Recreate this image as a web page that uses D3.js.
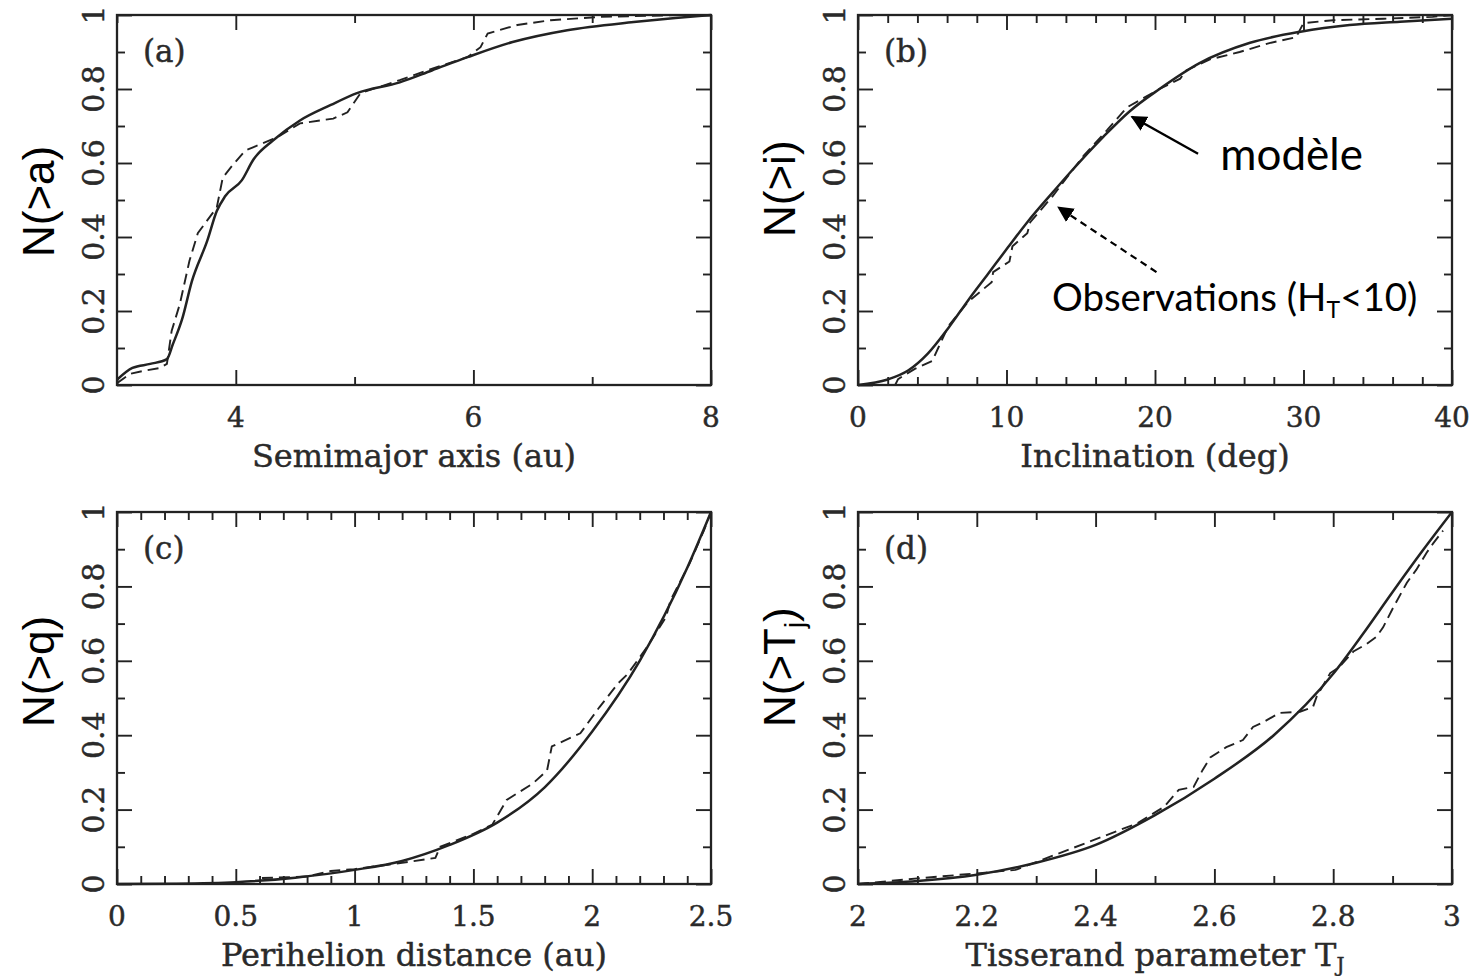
<!DOCTYPE html>
<html>
<head>
<meta charset="utf-8">
<script src="https://cdn.jsdelivr.net/npm/d3@7"></script>
<style>
  html, body { margin: 0; padding: 0; background: #ffffff; }
  svg { display: block; }
</style>
</head>
<body>
<svg id="fig" width="1471" height="976"></svg>
<script>
// ---------- cumulative distributions: model (solid) and observed (dashed) ----------

// (a) semimajor axis (au)
const aModelX = [3.0, 3.13, 3.28, 3.42, 3.47, 3.55, 3.63, 3.76, 3.84, 3.91, 4.05, 4.15, 4.31, 4.54, 4.8, 5.02, 5.38, 5.65, 5.95, 6.33, 6.79, 7.35, 7.7, 8.0];
const aModelY = [0.014, 0.046, 0.057, 0.07, 0.11, 0.18, 0.28, 0.39, 0.47, 0.51, 0.553, 0.61, 0.66, 0.715, 0.757, 0.789, 0.818, 0.85, 0.886, 0.927, 0.959, 0.981, 0.992, 1.0];
const aObsX = [3.0, 3.11, 3.22, 3.36, 3.42, 3.46, 3.53, 3.61, 3.68, 3.84, 3.89, 3.95, 4.08, 4.15, 4.35, 4.54, 4.82, 4.94, 5.05, 5.38, 5.66, 5.95, 6.06, 6.12, 6.37, 6.65, 7.07, 7.77, 8.0];
const aObsY = [0.005, 0.03, 0.038, 0.046, 0.057, 0.146, 0.22, 0.336, 0.41, 0.48, 0.56, 0.585, 0.634, 0.643, 0.67, 0.707, 0.72, 0.737, 0.789, 0.824, 0.856, 0.886, 0.913, 0.95, 0.973, 0.986, 0.995, 1.0, 1.0];

// (b) inclination (deg)
const bModelX = [0, 2.0, 3.4, 4.7, 6.1, 7.4, 8.75, 10.1, 11.4, 13.1, 14.3, 16.5, 18.3, 20.3, 23.0, 26.4, 29.8, 33.1, 36.5, 40];
const bModelY = [0, 0.015, 0.04, 0.085, 0.155, 0.228, 0.3, 0.372, 0.44, 0.52, 0.575, 0.67, 0.74, 0.8, 0.87, 0.925, 0.955, 0.973, 0.982, 0.99];
const bObsX = [2.5, 2.7, 3.8, 5.0, 5.4, 6.1, 7.4, 9.0, 9.1, 10.2, 10.4, 11.4, 11.6, 13.1, 15.2, 16.8, 18.1, 20.3, 21.7, 22.1, 23.7, 25.7, 27.7, 29.5, 30.0, 32.0, 35.4, 38.7, 40];
const bObsY = [0, 0.016, 0.043, 0.065, 0.1, 0.16, 0.224, 0.278, 0.305, 0.334, 0.375, 0.41, 0.44, 0.51, 0.62, 0.69, 0.75, 0.8, 0.828, 0.85, 0.88, 0.9, 0.924, 0.94, 0.978, 0.986, 0.99, 0.995, 1.0];

// (c) perihelion distance (au)
const cModelX = [0, 0.25, 0.5, 0.75, 1.0, 1.2, 1.4, 1.6, 1.8, 2.0, 2.2, 2.4, 2.5];
const cModelY = [0, 0.001, 0.005, 0.017, 0.038, 0.062, 0.105, 0.165, 0.26, 0.41, 0.6, 0.85, 1.0];
const cObsX = [0.61, 0.8, 0.9, 1.0, 1.2, 1.34, 1.36, 1.5, 1.58, 1.64, 1.75, 1.81, 1.83, 1.95, 2.03, 2.11, 2.15, 2.23, 2.31, 2.33, 2.41, 2.47, 2.5];
const cObsY = [0.016, 0.02, 0.035, 0.04, 0.057, 0.07, 0.1, 0.135, 0.16, 0.226, 0.27, 0.305, 0.37, 0.405, 0.475, 0.54, 0.565, 0.636, 0.717, 0.763, 0.862, 0.95, 1.0];

// (d) Tisserand parameter
const dModelX = [2.0, 2.1, 2.2, 2.3, 2.4, 2.5, 2.6, 2.7, 2.8, 2.85, 2.9, 2.95, 3.0];
const dModelY = [0, 0.008, 0.025, 0.057, 0.105, 0.185, 0.283, 0.4, 0.565, 0.672, 0.785, 0.895, 1.0];
const dObsX = [2.0, 2.1, 2.21, 2.265, 2.31, 2.47, 2.515, 2.54, 2.565, 2.58, 2.593, 2.62, 2.648, 2.665, 2.682, 2.71, 2.744, 2.766, 2.772, 2.795, 2.81, 2.834, 2.856, 2.873, 2.884, 2.9, 2.924, 2.94, 2.957, 2.968, 2.985];
const dObsY = [0, 0.015, 0.03, 0.038, 0.065, 0.163, 0.207, 0.253, 0.261, 0.306, 0.34, 0.368, 0.387, 0.422, 0.435, 0.46, 0.463, 0.476, 0.503, 0.567, 0.583, 0.625, 0.645, 0.665, 0.69, 0.74, 0.81, 0.845, 0.89, 0.915, 0.95];

// ---------- tick labels ----------
const yTickLabels = ["0", "0.2", "0.4", "0.6", "0.8", "1"];
const aXTickLabels = ["4", "6", "8"];
const bXTickLabels = ["0", "10", "20", "30", "40"];
const cXTickLabels = ["0", "0.5", "1", "1.5", "2", "2.5"];
const dXTickLabels = ["2", "2.2", "2.4", "2.6", "2.8", "3"];

// ---------- layout ----------
const panels = [
  { tag: "(a)", box: [117, 711, 15, 385], xDomain: [3, 8], xLabels: aXTickLabels, xMinorStep: 1,
    model: [aModelX, aModelY], obs: [aObsX, aObsY],
    xTitle: [{ t: "Semimajor axis (au)" }], yTitle: [{ t: "N(>a)" }], yTitleStart: 257 },
  { tag: "(b)", box: [858, 1452, 15, 385], xDomain: [0, 40], xLabels: bXTickLabels, xMinorStep: 2,
    model: [bModelX, bModelY], obs: [bObsX, bObsY],
    xTitle: [{ t: "Inclination (deg)" }], yTitle: [{ t: "N(>i)" }], yTitleStart: 237 },
  { tag: "(c)", box: [117, 711, 512, 884], xDomain: [0, 2.5], xLabels: cXTickLabels, xMinorStep: 0.1,
    model: [cModelX, cModelY], obs: [cObsX, cObsY],
    xTitle: [{ t: "Perihelion distance (au)" }], yTitle: [{ t: "N(>q)" }], yTitleStart: 727 },
  { tag: "(d)", box: [858, 1452, 512, 884], xDomain: [2, 3], xLabels: dXTickLabels, xMinorStep: 0.1,
    model: [dModelX, dModelY], obs: [dObsX, dObsY],
    xTitle: [{ t: "Tisserand parameter T" }, { t: "J", sub: true }],
    yTitle: [{ t: "N(>T" }, { t: "j", sub: true }, { t: ")" }], yTitleStart: 727 }
];

const INK = "#222222";
const SERIF = "'DejaVu Serif', 'Liberation Serif', serif";
const SANS = "'Liberation Sans', Arial, sans-serif";
const CALLOUT = "Lato, 'Open Sans', sans-serif";

const svg = d3.select("#fig");

// writes a label made of plain and subscript runs
function addRuns(textSel, runs, subShift) {
  let lowered = false;
  runs.forEach(r => {
    const ts = textSel.append("tspan").text(r.t);
    if (r.sub) { ts.attr("font-size", "62%").attr("dy", subShift); lowered = true; }
    else if (lowered) { ts.attr("dy", -subShift); lowered = false; }
  });
}

// serif text gets a hairline outline so it reads as heavy as the printed face
const serifText = s => s.attr("font-family", SERIF).attr("fill", "#2a2a2a")
  .attr("stroke", "#2a2a2a").attr("stroke-width", 0.45);

panels.forEach(p => {
  const [x0, x1, y0, y1] = p.box;
  const x = d3.scaleLinear().domain(p.xDomain).range([x0, x1]);
  const y = d3.scaleLinear().domain([0, 1]).range([y1, y0]);
  const g = svg.append("g");

  const eps = 1e-9;
  const xMajor = p.xLabels.map(Number);
  const xMinor = d3.range(p.xDomain[0], p.xDomain[1] + eps, p.xMinorStep)
    .filter(v => !xMajor.some(m => Math.abs(m - v) < 1e-6));
  const yMajor = yTickLabels.map(Number);
  const yMinor = d3.range(0, 1 + eps, 0.1).filter(v => !yMajor.some(m => Math.abs(m - v) < 1e-6));

  const MAJ = 15, MIN = 8;
  const tickStyle = s => s.call(a => a.select(".domain").remove())
    .call(a => a.selectAll("line").attr("stroke", INK).attr("stroke-width", 1.9))
    .call(a => a.selectAll("text").remove());

  // inward ticks on all four sides
  [[xMajor, MAJ], [xMinor, MIN]].forEach(([vals, len]) => {
    g.append("g").attr("transform", `translate(0,${y1})`)
      .call(d3.axisBottom(x).tickValues(vals).tickSize(-len)).call(tickStyle);
    g.append("g").attr("transform", `translate(0,${y0})`)
      .call(d3.axisTop(x).tickValues(vals).tickSize(-len)).call(tickStyle);
  });
  [[yMajor, MAJ], [yMinor, MIN]].forEach(([vals, len]) => {
    g.append("g").attr("transform", `translate(${x0},0)`)
      .call(d3.axisLeft(y).tickValues(vals).tickSize(-len)).call(tickStyle);
    g.append("g").attr("transform", `translate(${x1},0)`)
      .call(d3.axisRight(y).tickValues(vals).tickSize(-len)).call(tickStyle);
  });

  // frame
  g.append("rect").attr("x", x0).attr("y", y0).attr("width", x1 - x0).attr("height", y1 - y0)
    .attr("fill", "none").attr("stroke", INK).attr("stroke-width", 2.3);

  // x tick labels
  g.selectAll("text.xt").data(p.xLabels).join("text").attr("class", "xt")
    .attr("x", d => x(+d)).attr("y", y1 + 42)
    .attr("text-anchor", "middle").attr("font-size", 28).call(serifText).text(d => d);

  // y tick labels, rotated
  g.selectAll("text.yt").data(yTickLabels).join("text").attr("class", "yt")
    .attr("transform", d => `translate(${x0 - 13},${y(+d)}) rotate(-90)`)
    .attr("text-anchor", "middle").attr("font-size", 30).call(serifText).text(d => d);

  // x-axis title
  const xt = g.append("text").attr("x", (x0 + x1) / 2).attr("y", y1 + 82)
    .attr("text-anchor", "middle").attr("font-size", 32).call(serifText);
  addRuns(xt, p.xTitle, 6);

  // y-axis title, rotated
  const yt = g.append("text")
    .attr("transform", `translate(${x0 - 63},${p.yTitleStart}) rotate(-90)`)
    .attr("text-anchor", "start").attr("font-family", SANS).attr("font-size", 44).attr("fill", "#000");
  addRuns(yt, p.yTitle, 9);

  // panel tag
  g.append("text").attr("x", x0 + 26).attr("y", y0 + 47)
    .attr("font-size", 31).call(serifText).text(p.tag);

  // curves
  const clipId = "clip" + p.tag.replace(/\W/g, "");
  svg.append("clipPath").attr("id", clipId).append("rect")
    .attr("x", x0).attr("y", y0 - 2).attr("width", x1 - x0).attr("height", y1 - y0 + 4);

  const toPts = ([xs, ys]) => xs.map((v, i) => [v, ys[i]]);
  const smooth = d3.line().x(d => x(d[0])).y(d => y(d[1])).curve(d3.curveMonotoneX);
  const steps = d3.line().x(d => x(d[0])).y(d => y(d[1]));

  g.append("path").attr("clip-path", `url(#${clipId})`)
    .attr("d", steps(toPts(p.obs))).attr("fill", "none").attr("stroke", INK)
    .attr("stroke-width", 1.9).attr("stroke-dasharray", "11,6");
  g.append("path").attr("clip-path", `url(#${clipId})`)
    .attr("d", smooth(toPts(p.model))).attr("fill", "none").attr("stroke", INK)
    .attr("stroke-width", 2.5);

  p.xs = x; p.ys = y;
});

// ---------- callouts in panel (b) ----------
const pb = panels[1];
const defs = svg.append("defs");
defs.append("marker").attr("id", "head").attr("viewBox", "0 0 10 10")
  .attr("refX", 9).attr("refY", 5).attr("markerWidth", 16).attr("markerHeight", 16)
  .attr("markerUnits", "userSpaceOnUse").attr("orient", "auto")
  .append("path").attr("d", "M0,0 L10,5 L0,10 Z").attr("fill", "#000");

// solid arrow to the model curve
svg.append("line")
  .attr("x1", pb.xs(22.9)).attr("y1", pb.ys(0.625))
  .attr("x2", pb.xs(18.45)).attr("y2", pb.ys(0.725))
  .attr("stroke", "#000").attr("stroke-width", 2.4).attr("marker-end", "url(#head)");
svg.append("text").attr("x", pb.xs(24.4)).attr("y", pb.ys(0.582))
  .attr("font-family", CALLOUT).attr("font-size", 44).attr("fill", "#000").text("modèle");

// dashed arrow to the observed curve
svg.append("line")
  .attr("x1", pb.xs(20.1)).attr("y1", pb.ys(0.305))
  .attr("x2", pb.xs(13.5)).attr("y2", pb.ys(0.48))
  .attr("stroke", "#000").attr("stroke-width", 2.2).attr("stroke-dasharray", "7,5")
  .attr("marker-end", "url(#head)");
const obsText = svg.append("text").attr("x", pb.xs(13.06)).attr("y", pb.ys(0.2))
  .attr("font-family", CALLOUT).attr("font-size", 38.5).attr("fill", "#000");
obsText.append("tspan").text("Observations (H");
obsText.append("tspan").text("T").attr("font-size", 23).attr("dy", 7);
obsText.append("tspan").text("<10)").attr("dy", -7);
</script>
</body>
</html>
